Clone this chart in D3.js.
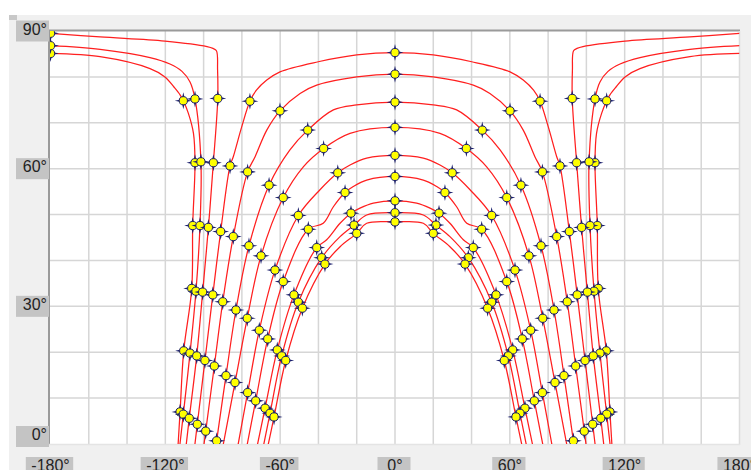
<!DOCTYPE html>
<html>
<head>
<meta charset="utf-8">
<script src="https://cdn.jsdelivr.net/npm/d3@7"></script>
<style>
  body { margin: 0; background: #fff; }
  svg { display: block; }
  .lbl text { font-family: "Liberation Sans", Arial, sans-serif; font-size: 16px; fill: #222; }
</style>
</head>
<body>
<svg id="chart" width="751" height="470"></svg>
<script>
// axis ticks
var lonTicks = [-180, -120, -60, 0, 60, 120, 180];
var latTicks = [0, 30, 60, 90];
var lonGrid = d3.range(-160, 180, 20);
var latGrid = d3.range(10, 90, 10);

// curves, outer to inner: three polar tracks (P3, P2, P1) then arches A9..A1
var curveNames = ["P3", "P2", "P1", "A9", "A8", "A7", "A6", "A5", "A4", "A3", "A2", "A1"];

// western half, [lon, lat]; the eastern half is the mirror image
var bottomRow = [[-113.6, -2], [-112.9, -2], [-109.6, -2], [-105.1, -2], [-100.4, -2], [-94.1, -2],
  [-90.6, -2], [-82.8, -2], [-78.1, -2], [-72.8, -2], [-69.5, -2], [-67.2, -2]];
var rowF = [[-112.3, 7.0], [-110.6, 6.5], [-107.5, 5.6], [-103.3, 4.3], [-98.9, 2.8], [-93.2, 0.7],
  null, null, null, null, null, null];
var rowE = [[-110.4, 20.3], [-107.1, 19.8], [-103.6, 19.2], [-99.3, 18.2], [-94.4, 17.0], [-88.3, 14.9],
  [-83.6, 13.4], [-77.0, 11.2], [-72.8, 9.4], [-67.9, 7.8], [-65.3, 6.7], [-63.2, 5.9]];
var rowD = [[-106.2, 33.9], [-104.0, 33.3], [-100.5, 33.1], [-95.2, 32.5], [-90.0, 31.0], [-83.1, 29.2],
  [-77.2, 27.4], [-70.9, 24.8], [-66.5, 22.9], [-61.5, 20.5], [-59.2, 19.2], [-57.1, 18.2]];
var rowC = [[-105.7, 47.6], [-101.9, 47.6], [-97.5, 47.2], [-91.1, 46.3], [-84.5, 45.2], [-76.3, 43.2],
  [-70.0, 41.0], [-62.7, 37.9], [-58.4, 35.4], [-52.8, 32.5], [-50.5, 30.9], [-48.4, 29.6]];
var rowB = [[-104.5, 61.3], [-101.4, 61.5], [-94.9, 61.3], [-86.2, 60.6], [-77.0, 59.3], [-65.8, 56.4],
  [-58.4, 53.7], [-50.5, 49.8], [-45.3, 46.8], [-40.9, 42.8], [-38.3, 40.6], [-36.6, 39.2]];
var rowA = [[-110.6, 74.8], [-104.5, 75.2], [-92.6, 75.3], [-75.8, 74.7], [-60.1, 72.6], [-45.6, 68.4],
  [-37.3, 64.4], [-29.9, 59.1], [-26.1, 54.8], [-23.0, 50.3], [-21.4, 47.7], [-20.0, 45.9]];
var apexRow = [[-180, 85.1], [-180, 86.8], [-180, 89.5], [0, 85.3], [0, 80.6], [0, 74.5],
  [0, 69.0], [0, 62.9], [0, 58.3], [0, 53.0], [0, 50.4], [0, 48.4]];

// extra points read along each track (no markers there)
var bendBA = [
  [[-105.3, 67.7], [-108.0, 72.1]],
  [],
  [],
  [[-84.5, 62.6], [-80.1, 69.1]],
  [[-73.1, 62.6], [-67.0, 68.4]],
  [[-54.9, 64.1]],
  [[-47.9, 60.4]],
  [[-39.2, 55.4]],
  [[-37.5, 48.1], [-32.2, 51.7]],
  [[-35.7, 44.5], [-28.7, 48.1]],
  [[-28.7, 45.2]],
  [[-28.7, 43.0]]
];
var bendTop = [
  [[-112.3, 76.1], [-115.5, 77.8], [-120.2, 80.0], [-128.0, 81.8], [-154.1, 84.4]],
  [[-107.1, 78.9], [-111.3, 81.2], [-117.6, 82.8], [-128.0, 84.2], [-154.1, 86.0]],
  [[-92.7, 81.5], [-93.3, 85.7], [-95.1, 86.2], [-98.2, 86.6], [-120.2, 87.8], [-154.1, 88.7]],
  [[-72.4, 77.1], [-67.0, 79.3], [-60.1, 81.1], [-40.1, 83.3], [-20.0, 84.8]],
  [[-49.6, 76.4], [-40.9, 78.2], [-20.0, 80.0]],
  [[-32.2, 72.8], [-20.0, 73.9]],
  [[-23.5, 67.7]],
  [[-23.5, 60.8], [-14.8, 62.3]],
  [[-21.8, 56.1], [-14.8, 57.5]],
  [[-18.3, 51.4], [-11.3, 52.5]],
  [[-14.8, 49.9]],
  [[-14.8, 48.1]]
];

var svg = d3.select("#chart");

var x = d3.scaleLinear().domain([-180, 180]).range([50.5, 739.5]);
var y = d3.scaleLinear().domain([0, 90]).range([444, 31]);

// window chrome
svg.append("rect").attr("x", 9).attr("y", 15).attr("width", 742).attr("height", 455).attr("fill", "#f0f0f0");
svg.append("rect").attr("x", 9).attr("y", 15).attr("width", 8).attr("height", 5).attr("fill", "#c8c8c8");
svg.append("rect").attr("x", 50).attr("y", 31).attr("width", 689.5).attr("height", 413).attr("fill", "#fff");

svg.append("clipPath").attr("id", "plotclip")
  .append("rect").attr("x", 50).attr("y", 31).attr("width", 689.5).attr("height", 413);

// grid
var grid = svg.append("g").attr("stroke", "#d6d6d6").attr("stroke-width", 1.5);
grid.selectAll(".gx").data(lonGrid).enter().append("line")
  .attr("x1", function(d) { return x(d); }).attr("x2", function(d) { return x(d); })
  .attr("y1", 31).attr("y2", 444);
grid.selectAll(".gy").data(latGrid).enter().append("line")
  .attr("y1", function(d) { return y(d); }).attr("y2", function(d) { return y(d); })
  .attr("x1", 50).attr("x2", 739.5);

// plot frame
svg.append("line").attr("x1", 48).attr("x2", 740).attr("y1", 30.5).attr("y2", 30.5).attr("stroke", "#9a9a9a").attr("stroke-width", 2);
svg.append("line").attr("x1", 49).attr("x2", 49).attr("y1", 30).attr("y2", 445).attr("stroke", "#9a9a9a").attr("stroke-width", 2);
svg.append("line").attr("x1", 739.5).attr("x2", 739.5).attr("y1", 31).attr("y2", 445).attr("stroke", "#dcdcdc").attr("stroke-width", 1.5);
svg.append("line").attr("x1", 49).attr("x2", 740).attr("y1", 444.5).attr("y2", 444.5).attr("stroke", "#e4e4e4").attr("stroke-width", 1.5);

// build tracks
function mirror(p) { return [-p[0], p[1]]; }
var tracks = [];
var markers = [];
curveNames.forEach(function(name, i) {
  var left = [bottomRow[i]];
  if (rowF[i]) left.push(rowF[i]);
  left.push(rowE[i], rowD[i], rowC[i], rowB[i]);
  left = left.concat(bendBA[i]);
  left.push(rowA[i]);
  left = left.concat(bendTop[i]);
  left.push(apexRow[i]);

  var rowPts = [rowF[i], rowE[i], rowD[i], rowC[i], rowB[i], rowA[i]].filter(Boolean);
  rowPts.forEach(function(p) { markers.push(p, mirror(p)); });
  markers.push(apexRow[i]);

  if (name.charAt(0) === "A") {
    tracks.push(left.concat(left.slice(0, -1).reverse().map(mirror)));
  } else {
    tracks.push(left, left.map(mirror));
  }
});

var line = d3.line()
  .x(function(d) { return x(d[0]); })
  .y(function(d) { return y(d[1]); })
  .curve(d3.curveCatmullRom.alpha(0.5));

var plot = svg.append("g").attr("clip-path", "url(#plotclip)");

plot.selectAll(".track").data(tracks).enter().append("path")
  .attr("class", "track")
  .attr("d", line)
  .attr("fill", "none")
  .attr("stroke", "#ff1f1f")
  .attr("stroke-width", 1.25);

var star = "M0,-8.5L1.6,-1.6L8.5,0L1.6,1.6L0,8.5L-1.6,1.6L-8.5,0L-1.6,-1.6Z";
var mk = plot.selectAll(".mk").data(markers).enter().append("g")
  .attr("class", "mk")
  .attr("transform", function(d) { return "translate(" + x(d[0]) + "," + y(d[1]) + ")"; });
mk.append("path").attr("d", star).attr("fill", "#1b1f6c");
mk.append("circle").attr("r", 4.1).attr("fill", "#ffff00").attr("stroke", "#1b1f6c").attr("stroke-width", 1);

// axis labels
var lbl = svg.append("g").attr("class", "lbl");
var yl = lbl.selectAll(".yl").data(latTicks).enter().append("g").attr("class", "yl")
  .attr("transform", function(d) { return "translate(0," + Math.min(y(d) - 10.5, 426) + ")"; });
yl.append("rect").attr("x", 16).attr("y", 0).attr("width", 33).attr("height", 21).attr("fill", "#c4c4c4");
yl.append("text").attr("x", 47).attr("y", 14).attr("text-anchor", "end").text(function(d) { return d + "°"; });

var xl = lbl.selectAll(".xl").data(lonTicks).enter().append("g").attr("class", "xl")
  .attr("transform", function(d) { return "translate(" + x(d) + ",457)"; });
xl.append("text").attr("x", 0).attr("y", 14).attr("text-anchor", "middle").text(function(d) { return d + "°"; });
xl.each(function() {
  var g = d3.select(this);
  var w = g.select("text").node().getComputedTextLength();
  g.insert("rect", "text").attr("x", -Math.max(33, w + 9) / 2 - 1).attr("y", 0)
    .attr("width", Math.max(33, w + 9)).attr("height", 20).attr("fill", "#c4c4c4");
});
</script>
</body>
</html>
